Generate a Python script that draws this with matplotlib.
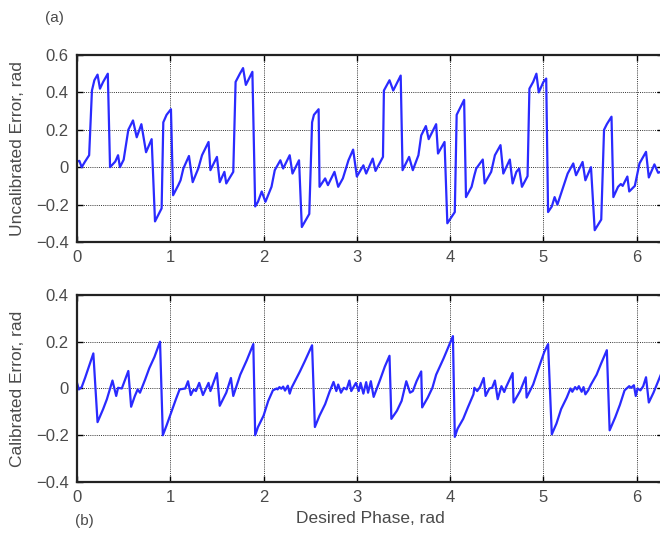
import numpy as np
import matplotlib.pyplot as plt

plt.rcParams['font.family'] = ['Liberation Sans', 'DejaVu Sans']

# uncalibrated error (top panel)
x_uncal = [0, 0.025, 0.05, 0.086, 0.13, 0.16, 0.186, 0.22, 0.246, 0.28, 0.33, 0.354,
           0.41, 0.44, 0.46, 0.5, 0.55, 0.6, 0.64, 0.69, 0.74, 0.8, 0.836, 0.907,
           0.925, 0.96, 1.007, 1.03, 1.086, 1.11, 1.14, 1.2, 1.24, 1.3, 1.34, 1.41,
           1.43, 1.5, 1.53, 1.58, 1.6, 1.675, 1.7, 1.746, 1.78, 1.81, 1.88, 1.91,
           1.94, 1.98, 2.02, 2.085, 2.12, 2.18, 2.21, 2.28, 2.31, 2.38, 2.41, 2.49,
           2.52, 2.54, 2.59, 2.6, 2.66, 2.69, 2.76, 2.8, 2.85, 2.91, 2.96, 3.0,
           3.07, 3.1, 3.17, 3.2, 3.28, 3.29, 3.35, 3.39, 3.47, 3.49, 3.56, 3.6,
           3.66, 3.69, 3.74, 3.77, 3.85, 3.87, 3.94, 3.97, 4.05, 4.07, 4.1, 4.15,
           4.17, 4.23, 4.26, 4.28, 4.35, 4.37, 4.44, 4.48, 4.54, 4.57, 4.64, 4.67,
           4.71, 4.74, 4.77, 4.83, 4.85, 4.89, 4.925, 4.95, 5.0, 5.03, 5.05, 5.09,
           5.12, 5.15, 5.23, 5.26, 5.32, 5.35, 5.42, 5.45, 5.51, 5.55, 5.62, 5.65,
           5.68, 5.73, 5.75, 5.8, 5.83, 5.85, 5.9, 5.92, 5.98, 6.03, 6.1, 6.13,
           6.19, 6.23, 6.28]
y_uncal = [0.03, 0.034, 0.0, 0.03, 0.064, 0.41, 0.465, 0.495, 0.42, 0.456, 0.50, 0.0,
           0.03, 0.064, 0.0, 0.04, 0.2, 0.25, 0.16, 0.23, 0.08, 0.15, -0.29, -0.22,
           0.24, 0.28, 0.31, -0.15, -0.096, -0.07, -0.007, 0.06, -0.08, -0.007, 0.064, 0.135,
           -0.016, 0.055, -0.08, -0.025, -0.087, -0.025, 0.456, 0.50, 0.53, 0.44, 0.51, -0.21,
           -0.185, -0.13, -0.185, -0.105, -0.016, 0.037, -0.007, 0.064, -0.034, 0.037, -0.32, -0.25,
           0.24, 0.28, 0.31, -0.105, -0.06, -0.096, -0.025, -0.105, -0.06, 0.037, 0.094, -0.05,
           0.01, -0.034, 0.046, -0.02, 0.055, 0.41, 0.465, 0.41, 0.49, -0.016, 0.055, -0.016,
           0.064, 0.17, 0.22, 0.15, 0.23, 0.073, 0.135, -0.30, -0.24, 0.28, 0.31, 0.36,
           -0.16, -0.105, -0.043, -0.007, 0.041, -0.087, -0.025, 0.064, 0.118, -0.034, 0.041, -0.087,
           -0.025, -0.007, -0.105, -0.048, 0.42, 0.456, 0.50, 0.40, 0.456, 0.474, -0.24, -0.21,
           -0.16, -0.2, -0.078, -0.034, 0.02, -0.043, 0.028, -0.07, 0.0, -0.337, -0.28, 0.2,
           0.23, 0.27, -0.16, -0.105, -0.09, -0.1, -0.05, -0.13, -0.1, 0.02, 0.082, -0.055,
           0.015, -0.03, -0.02]

# calibrated error (bottom panel)
x_cal = [0, 0.02, 0.05, 0.086, 0.175, 0.22, 0.28, 0.32, 0.38, 0.42, 0.44, 0.48,
         0.55, 0.58, 0.62, 0.65, 0.675, 0.73, 0.775, 0.83, 0.89, 0.92, 0.96, 1.01,
         1.06, 1.1, 1.16, 1.19, 1.22, 1.25, 1.275, 1.31, 1.35, 1.41, 1.43, 1.5,
         1.53, 1.6, 1.65, 1.675, 1.75, 1.82, 1.89, 1.91, 1.94, 2.0, 2.05, 2.1,
         2.14, 2.15, 2.17, 2.19, 2.21, 2.23, 2.26, 2.28, 2.3, 2.39, 2.44, 2.52,
         2.55, 2.6, 2.66, 2.71, 2.75, 2.78, 2.8, 2.83, 2.86, 2.89, 2.92, 2.94,
         2.99, 3.02, 3.04, 3.07, 3.1, 3.12, 3.15, 3.18, 3.25, 3.3, 3.35, 3.37,
         3.43, 3.48, 3.53, 3.57, 3.6, 3.64, 3.69, 3.7, 3.76, 3.81, 3.85, 3.93,
         4.03, 4.05, 4.08, 4.14, 4.19, 4.25, 4.26, 4.29, 4.32, 4.36, 4.38, 4.42,
         4.45, 4.48, 4.51, 4.55, 4.58, 4.6, 4.67, 4.68, 4.75, 4.81, 4.82, 4.89,
         4.96, 5.01, 5.05, 5.09, 5.14, 5.19, 5.25, 5.29, 5.31, 5.34, 5.36, 5.38,
         5.41, 5.43, 5.45, 5.48, 5.51, 5.57, 5.62, 5.68, 5.71, 5.77, 5.82, 5.87,
         5.92, 5.94, 5.97, 5.99, 6.01, 6.04, 6.07, 6.1, 6.13, 6.18, 6.23, 6.28]
y_cal = [0.024, -0.004, 0.006, 0.045, 0.15, -0.144, -0.088, -0.046, 0.034, -0.032, 0.003, 0.0,
         0.075, -0.078, -0.032, -0.004, -0.018, 0.038, 0.087, 0.135, 0.2, -0.2, -0.158, -0.102,
         -0.046, -0.004, 0.0, 0.031, -0.028, -0.004, -0.011, 0.024, -0.028, 0.024, -0.011, 0.066,
         -0.074, -0.018, 0.045, -0.032, 0.059, 0.121, 0.19, -0.2, -0.165, -0.116, -0.053, -0.008,
         0.0, -0.004, 0.006, -0.001, 0.008, -0.009, 0.012, -0.022, 0.003, 0.073, 0.115, 0.185,
         -0.165, -0.116, -0.067, -0.011, 0.028, -0.011, 0.017, -0.018, 0.003, -0.004, 0.034, -0.011,
         0.024, -0.011, 0.024, -0.022, 0.027, -0.018, 0.031, -0.036, 0.038, 0.094, 0.14, -0.13,
         -0.095, -0.053, 0.031, -0.018, -0.011, 0.031, 0.073, -0.081, -0.039, 0.003, 0.059, 0.129,
         0.224, -0.207, -0.172, -0.13, -0.081, -0.025, 0.003, -0.011, 0.006, 0.045, -0.032, 0.0,
         0.003, 0.034, -0.046, 0.01, -0.015, 0.006, 0.066, -0.06, -0.011, 0.048, -0.039, 0.017,
         0.1, 0.157, 0.19, -0.196, -0.15, -0.088, -0.039, 0.0, -0.014, 0.006, -0.004, 0.01,
         -0.014, 0.006, -0.025, -0.008, 0.017, 0.059, 0.108, 0.164, -0.179, -0.123, -0.07, -0.008,
         0.01, 0.003, 0.014, -0.032, 0.0, -0.008, 0.01, 0.048, -0.06, -0.018, 0.031, 0.08]

x_ticks = [0, 1, 2, 3, 4, 5, 6]
top_yticks = [-0.4, -0.2, 0, 0.2, 0.4, 0.6]
bot_yticks = [-0.4, -0.2, 0, 0.2, 0.4]

text_color = '#4a4a4a'


def tick_text(v):
    if v == 0:
        return '0'
    return ('%g' % v).replace('-', '\u2212')


fig = plt.figure(figsize=(6.6, 5.35), dpi=100)
ax1 = fig.add_axes([0.1167, 0.5477, 0.888, 0.3495])
ax2 = fig.add_axes([0.1167, 0.0991, 0.888, 0.3495])

panels = [
    (ax1, x_uncal, y_uncal, top_yticks, (-0.4, 0.6), 'Uncalibrated Error, rad'),
    (ax2, x_cal, y_cal, bot_yticks, (-0.4, 0.4), 'Calibrated Error, rad'),
]

for ax, xs, ys, yt, ylim, ylabel in panels:
    ax.plot(xs, ys, color='#2a2aff', linewidth=1.6)
    ax.set_xlim(0, 2 * np.pi)
    ax.set_ylim(*ylim)
    ax.set_xticks(x_ticks)
    ax.set_xticklabels([tick_text(v) for v in x_ticks])
    ax.set_yticks(yt)
    ax.set_yticklabels([tick_text(v) for v in yt])
    ax.grid(True, color='#333333', linestyle=(0, (1, 1.2)), linewidth=0.7)
    ax.tick_params(direction='in', top=True, right=True, length=4, width=1,
                   labelsize=12, labelcolor=text_color)
    ax.tick_params(axis='x', pad=6)
    ax.tick_params(axis='y', pad=6)
    for s in ax.spines.values():
        s.set_linewidth(1.6)
        s.set_color('#222222')
    ax.set_ylabel(ylabel, fontsize=12.5, color=text_color)
    ax.yaxis.set_label_coords(-0.088, 0.5)

ax2.set_xlabel('Desired Phase, rad', fontsize=12.5, color=text_color)
ax2.xaxis.set_label_coords(0.5, -0.155)

fig.text(0.068, 0.966, '(a)', fontsize=11, color=text_color, ha='left', va='center')
fig.text(0.113, 0.026, '(b)', fontsize=11, color=text_color, ha='left', va='center')

fig.savefig('out.png', dpi=100)
